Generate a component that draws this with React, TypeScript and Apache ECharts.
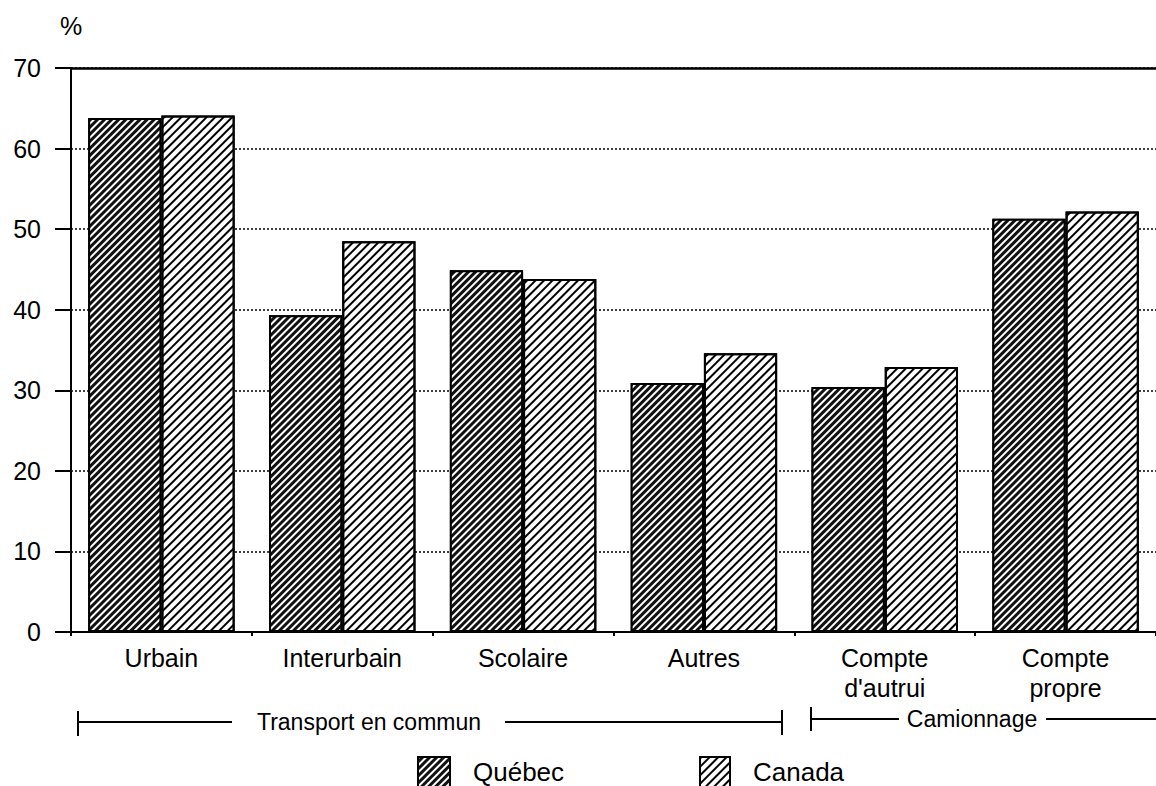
import React, { useEffect, useRef } from "react";
import * as echarts from "echarts";

const categories = ["Urbain", "Interurbain", "Scolaire", "Autres", "Compte\nd'autrui", "Compte\npropre"];
const quebec = [63.8, 39.3, 44.9, 30.9, 30.4, 51.3];
const canada = [64.1, 48.5, 43.8, 34.6, 32.9, 52.2];
const seriesNames = ["Québec", "Canada"];
const groupLabels = ["Transport en commun", "Camionnage"];
const yTicks = { min: 0, max: 70, interval: 10 };

const FONT = "'Liberation Sans', Arial, Helvetica, sans-serif";

export default function App() {
  const ref = useRef<HTMLDivElement>(null);
  useEffect(() => {
    if (!ref.current) return;
    const chart = echarts.init(ref.current, undefined, { renderer: "svg" });
    const qDecal = {
      symbol: "rect",
      symbolSize: 1,
      color: "#ffffff",
      dashArrayX: [1, 0],
      dashArrayY: [2, 3],
      rotation: -Math.PI / 4,
    };
    const cDecal = {
      symbol: "rect",
      symbolSize: 1,
      color: "#000000",
      dashArrayX: [1, 0],
      dashArrayY: [1.5, 3.5],
      rotation: -Math.PI / 4,
    };
    const lineStyle = { stroke: "#000", lineWidth: 2 };
    const legendBase = {
      top: 751,
      itemHeight: 30,
      icon: "rect",
      itemStyle: { borderColor: "#000", borderWidth: 2 },
      textStyle: { fontSize: 26, fontFamily: FONT, color: "#000", padding: [0, 0, 0, 18] },
    };
    chart.setOption({
      animation: false,
      backgroundColor: "#ffffff",
      textStyle: { fontFamily: FONT, color: "#000" },
      grid: { left: 71, right: 0, top: 68, bottom: 154, containLabel: false },
      legend: [
        { ...legendBase, data: [seriesNames[0]], left: 412, itemWidth: 32 },
        { ...legendBase, data: [seriesNames[1]], left: 694, itemWidth: 30 },
      ],
      xAxis: [
        {
          type: "category",
          data: categories,
          position: "bottom",
          axisLine: { show: true, lineStyle: { color: "#000", width: 2 } },
          axisTick: { show: true, length: 4, lineStyle: { color: "#000", width: 2 } },
          axisLabel: { fontSize: 25, color: "#000", fontFamily: FONT, lineHeight: 30, margin: 11 },
          splitLine: { show: false },
        },
        {
          type: "category",
          data: categories,
          position: "top",
          axisLine: { show: true, lineStyle: { color: "#000", width: 2.5 } },
          axisTick: { show: false },
          axisLabel: { show: false },
        },
      ],
      yAxis: {
        type: "value",
        min: yTicks.min,
        max: yTicks.max,
        interval: yTicks.interval,
        name: "%",
        nameLocation: "end",
        nameGap: 30,
        nameTextStyle: { fontSize: 25, color: "#000", fontFamily: FONT, align: "center" },
        axisLine: { show: true, lineStyle: { color: "#000", width: 2 } },
        axisTick: { show: true, length: 16, lineStyle: { color: "#000", width: 2 } },
        axisLabel: { fontSize: 25, color: "#000", fontFamily: FONT, margin: 30 },
        splitLine: { show: true, lineStyle: { color: "#000", width: 1.5, type: [2, 2] } },
      },
      series: [
        {
          name: seriesNames[0],
          type: "bar",
          data: quebec,
          barGap: "0%",
          barCategoryGap: "19%",
          itemStyle: { color: "#111111", borderColor: "#000", borderWidth: 2, decal: qDecal },
        },
        {
          name: seriesNames[1],
          type: "bar",
          data: canada,
          barGap: "0%",
          barCategoryGap: "19%",
          itemStyle: { color: "#ffffff", borderColor: "#000", borderWidth: 2, decal: cDecal },
        },
      ],
      graphic: [
        { type: "line", shape: { x1: 78, y1: 722, x2: 232, y2: 722 }, style: lineStyle },
        { type: "line", shape: { x1: 78, y1: 711, x2: 78, y2: 736 }, style: lineStyle },
        { type: "line", shape: { x1: 505, y1: 722, x2: 782, y2: 722 }, style: lineStyle },
        { type: "line", shape: { x1: 782, y1: 710, x2: 782, y2: 735 }, style: lineStyle },
        {
          type: "text",
          x: 369,
          y: 722,
          style: { text: groupLabels[0], font: `23px ${FONT}`, fill: "#000", textAlign: "center", textVerticalAlign: "middle" },
        },
        { type: "line", shape: { x1: 811, y1: 719, x2: 899, y2: 719 }, style: lineStyle },
        { type: "line", shape: { x1: 811, y1: 707, x2: 811, y2: 731 }, style: lineStyle },
        { type: "line", shape: { x1: 1046, y1: 719, x2: 1156, y2: 719 }, style: lineStyle },
        {
          type: "text",
          x: 972,
          y: 719,
          style: { text: groupLabels[1], font: `23px ${FONT}`, fill: "#000", textAlign: "center", textVerticalAlign: "middle" },
        },
      ],
    });
    return () => chart.dispose();
  }, []);
  return (
    <div
      ref={ref}
      style={{ position: "fixed", left: 0, top: 0, width: 1156, height: 786, background: "#fff" }}
    />
  );
}
